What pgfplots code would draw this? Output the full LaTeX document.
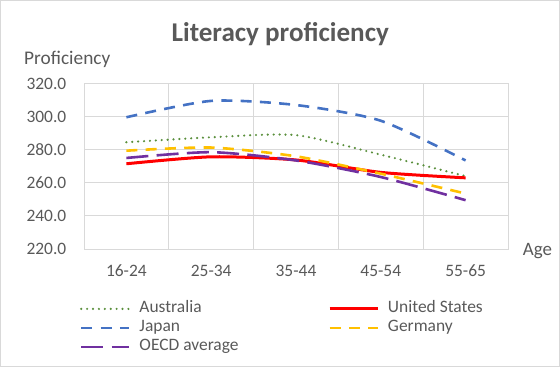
\documentclass[border=0pt]{standalone}
\usepackage{pgfplots}
\pgfplotsset{compat=1.18}
\usepackage{fontspec}
\setmainfont{Carlito}
\definecolor{txt}{HTML}{595959}
\definecolor{gridc}{HTML}{D9D9D9}
\definecolor{cAus}{HTML}{5A8F3C}
\definecolor{cJap}{HTML}{4472C4}
\definecolor{cUS}{HTML}{FF0000}
\definecolor{cGer}{HTML}{FFC000}
\definecolor{cOECD}{HTML}{7030A0}
\begin{document}
\begin{tikzpicture}
\draw[draw=black!15, line width=0.8bp] (0.4bp,0.4bp) rectangle (559.6bp,366.6bp);
\begin{axis}[
  at={(84bp,118bp)}, anchor=south west,
  scale only axis, width=424bp, height=165.5bp,
  xmin=-0.5, xmax=4.5, ymin=220, ymax=320,
  xtick={0,1,2,3,4},
  xticklabels={16-24,25-34,35-44,45-54,55-65},
  ytick={220,240,260,280,300,320},
  minor xtick={0.5,1.5,2.5,3.5},
  ymajorgrids, xminorgrids,
  grid style={gridc, line width=0.8bp},
  minor grid style={gridc, line width=0.8bp},
  axis line style={gridc, line width=0.8bp},
  major tick length=0pt, minor tick length=0pt,
  tick style={draw=none},
  /pgf/number format/assume math mode=true,
  yticklabel={\pgfmathprintnumber[fixed,fixed zerofill,precision=1]{\tick}},
  ticklabel style={font=\fontsize{17.5}{21}\selectfont, text=txt, inner sep=0pt},
  yticklabel style={anchor=east, xshift=-17.5bp},
  xticklabel style={anchor=north, yshift=-16bp},
  every axis title/.style={at={(rel axis cs:0.5,1)}, anchor=base, xshift=-15.7bp, yshift=41.8bp,
     font=\bfseries\fontsize{27.2}{32}\selectfont, text=txt, inner sep=0pt},
  title={Literacy proficiency},
  every axis y label/.style={at={(rel axis cs:0,1)}, anchor=base west, xshift=-60bp, yshift=18.5bp,
     font=\fontsize{19.4}{23}\selectfont, text=txt, inner sep=0pt},
  ylabel={Proficiency},
  every axis x label/.style={at={(rel axis cs:1,0)}, anchor=base west, xshift=14.7bp, yshift=-6.7bp,
     font=\fontsize{19}{23}\selectfont, text=txt, inner sep=0pt},
  xlabel={Age},
  legend columns=2,
  legend cell align=left,
  legend image code/.code={\draw[#1] (0bp,0bp) -- (48bp,0bp);},
  legend style={at={(rel axis cs:0,0)}, anchor=north west, xshift=-4.3bp, yshift=-51.7bp,
     draw=none, fill=none, inner sep=0pt, column sep=9bp, row sep=3bp,
     font=\fontsize{17.5}{21}\selectfont, text=txt,
     nodes={inner sep=0pt, text height=12bp, text depth=4bp}},
  every axis plot/.append style={smooth, tension=0.42, line width=2.6bp, mark=none},
]
\addplot[cAus, line width=2.4bp, line cap=round, dash pattern=on 0bp off 5.9bp] coordinates {(0,284.5) (1,287.5) (2,288.8) (3,277) (4,264)};
\addlegendentry{\makebox[179.5bp][l]{Australia}}
\addplot[cUS, line width=3bp] coordinates {(0,271.5) (1,275.7) (2,273.8) (3,266.3) (4,263)};
\addlegendentry{United States}
\addplot[cJap, dash pattern=on 11bp off 8.3bp] coordinates {(0,299.6) (1,309.5) (2,307) (3,297.5) (4,273.5)};
\addlegendentry{\makebox[179.5bp][l]{Japan}}
\addplot[cGer, dash pattern=on 11bp off 8.3bp] coordinates {(0,279.4) (1,281.3) (2,276) (3,265.5) (4,253.5)};
\addlegendentry{Germany}
\addplot[cOECD, dash pattern=on 22bp off 8.3bp] coordinates {(0,275) (1,278.5) (2,273.5) (3,263.5) (4,249.5)};
\addlegendentry{\makebox[179.5bp][l]{OECD average}}
\end{axis}
\end{tikzpicture}
\end{document}
